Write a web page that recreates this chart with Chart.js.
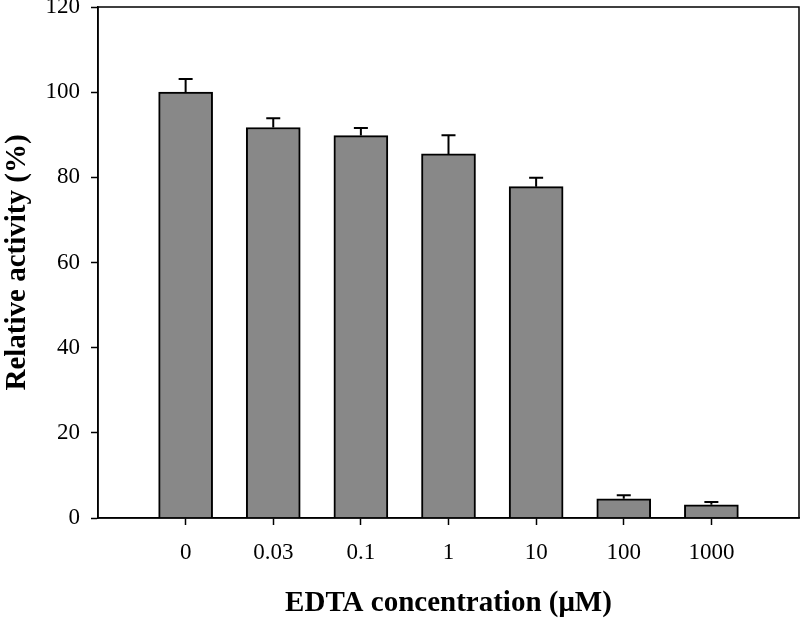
<!DOCTYPE html>
<html>
<head>
<meta charset="utf-8">
<script src="https://cdn.jsdelivr.net/npm/chart.js@4"></script>
<style>
  html, body { margin: 0; padding: 0; background: #fff; }
  #wrap { width: 800px; height: 618px; }
</style>
</head>
<body>
<div id="wrap"><canvas id="c" width="800" height="618"></canvas></div>
<script>
const concLabels = ['0', '0.03', '0.1', '1', '10', '100', '1000'];
const activity = [100, 91.7, 89.8, 85.5, 77.8, 4.5, 3.1];
const activityErr = [3.1, 2.2, 1.8, 4.4, 2.1, 0.85, 0.65];
const yTicks = [0, 20, 40, 60, 80, 100, 120];

const serif = "'Liberation Serif', 'Times New Roman', serif";

// frame round the plot + one-sided error bars
const extras = {
  id: 'extras',
  afterDatasetsDraw(chart) {
    const { ctx, chartArea: a, scales } = chart;
    const x = scales.x, y = scales.y;
    ctx.save();
    ctx.strokeStyle = '#000';
    ctx.lineWidth = 2;
    activity.forEach((v, i) => {
      const px = x.getPixelForValue(i + 1);
      const y0 = y.getPixelForValue(v);
      const y1 = y.getPixelForValue(v + activityErr[i]);
      ctx.beginPath();
      ctx.moveTo(px, y0);
      ctx.lineTo(px, y1);
      ctx.moveTo(px - 7, y1);
      ctx.lineTo(px + 7, y1);
      ctx.stroke();
    });
    ctx.lineWidth = 1.5;
    ctx.strokeRect(a.left, a.top, a.right - a.left, a.bottom - a.top);
    ctx.restore();
  }
};

new Chart(document.getElementById('c'), {
  type: 'bar',
  data: {
    datasets: [{
      data: activity.map((v, i) => ({ x: i + 1, y: v })),
      backgroundColor: '#888888',
      borderColor: '#000',
      borderWidth: 2,
      barThickness: 54
    }]
  },
  options: {
    responsive: false,
    animation: false,
    layout: { padding: { top: 7, right: 1, left: 0, bottom: 0 } },
    plugins: { legend: { display: false }, tooltip: { enabled: false } },
    scales: {
      x: {
        type: 'linear',
        min: 0,
        max: 8,
        offset: false,
        afterBuildTicks: (s) => { s.ticks = concLabels.map((_, i) => ({ value: i + 1 })); },
        afterFit: (s) => { s.height = 100; s.paddingLeft = 0; s.paddingRight = 0; },
        grid: { display: true, offset: false, drawOnChartArea: false, tickLength: 7, tickWidth: 1.5, tickColor: '#000' },
        border: { display: true, color: '#000', width: 1.5 },
        ticks: {
          autoSkip: false,
          maxRotation: 0,
          color: '#000',
          padding: 14,
          font: { family: serif, size: 23 },
          callback: (v) => concLabels[v - 1] ?? ''
        },
        title: {
          display: true,
          text: 'EDTA concentration (μM)',
          color: '#000',
          font: { family: serif, size: 29, weight: 'bold' },
          padding: { top: 0, bottom: -3 }
        }
      },
      y: {
        min: 0,
        max: 120,
        afterBuildTicks: (s) => { s.ticks = yTicks.map(v => ({ value: v })); },
        afterFit: (s) => { s.width = 98; s.paddingTop = 0; s.paddingBottom = 0; },
        grid: { display: true, drawOnChartArea: false, tickLength: 7, tickWidth: 1.5, tickColor: '#000' },
        border: { display: true, color: '#000', width: 1.5 },
        ticks: {
          color: '#000',
          padding: 11,
          font: { family: serif, size: 23 }
        },
        title: {
          display: true,
          text: 'Relative activity (%)',
          color: '#000',
          font: { family: serif, size: 29, weight: 'bold' },
          padding: { top: 0, bottom: 0 }
        }
      }
    }
  },
  plugins: [extras]
});
</script>
</body>
</html>
